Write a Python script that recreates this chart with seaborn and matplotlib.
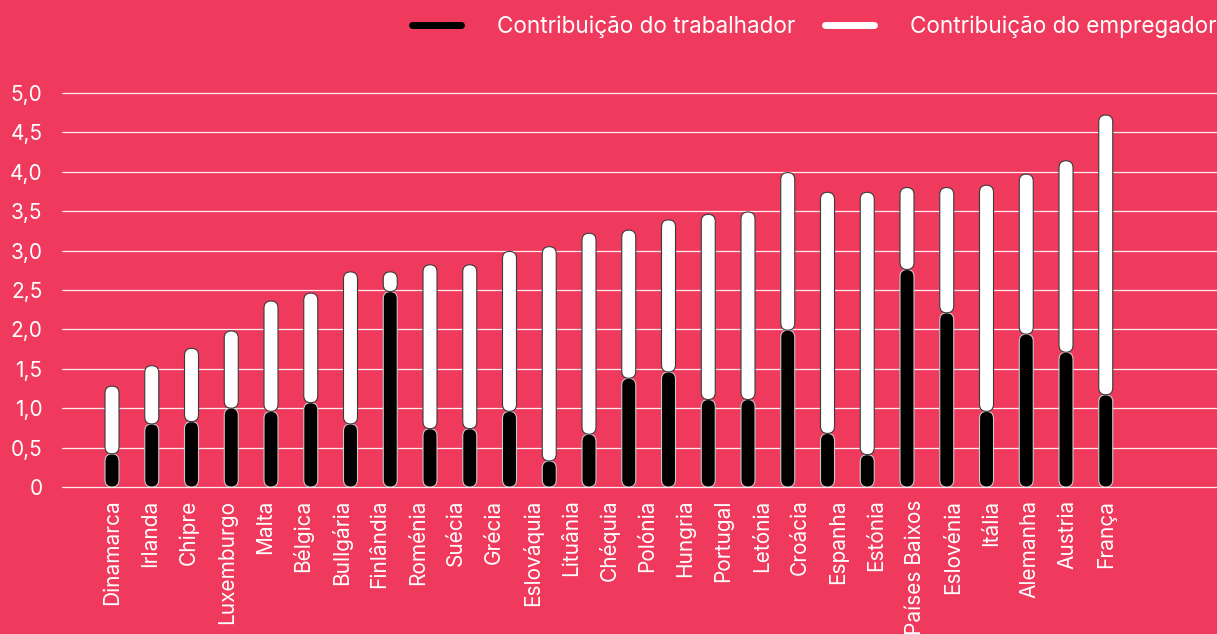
import matplotlib
matplotlib.use("Agg")
import matplotlib.pyplot as plt
import seaborn as sns
import numpy as np
from matplotlib.patches import FancyBboxPatch
from matplotlib.lines import Line2D

# labels along the x axis (27 labels, 26 bars in the source chart)
countries = ["Dinamarca", "Irlanda", "Chipre", "Luxemburgo", "Malta", "Bélgica",
             "Bullgária", "Finlândia", "Roménia", "Suécia", "Grécia", "Eslováquia",
             "Lituânia", "Chéquia", "Polónia", "Hungria", "Portugal", "Letónia",
             "Croácia", "Espanha", "Estónia", "Países Baixos", "Eslovénia", "Itália",
             "Alemanha", "Austria", "França"]

worker = [0.42, 0.80, 0.83, 1.00, 0.96, 1.07, 0.80, 2.48, 0.74, 0.74, 0.96, 0.33, 0.67,
          1.38, 1.46, 1.11, 1.11, 1.99, 0.68, 0.41, 2.76, 2.21, 0.96, 1.94, 1.71, 1.17]
employer = [0.86, 0.74, 0.93, 0.98, 1.40, 1.39, 1.93, 0.25, 2.08, 2.08, 2.03, 2.72, 2.55,
            1.88, 1.93, 2.35, 2.38, 2.00, 3.06, 3.33, 1.04, 1.59, 2.87, 2.03, 2.43, 3.55]

yticks = [0, 0.5, 1.0, 1.5, 2.0, 2.5, 3.0, 3.5, 4.0, 4.5, 5.0]
ytick_labels = ["0", "0,5", "1,0", "1,5", "2,0", "2,5", "3,0", "3,5", "4,0", "4,5", "5,0"]

bg = "#ef3a5d"

sns.set_style("white")
plt.rcParams['font.family'] = ['Inter', 'DejaVu Sans']

fig = plt.figure(figsize=(12.17, 6.34), dpi=100, facecolor=bg)
ax = fig.add_axes([62 / 1217, 147 / 634, 1155 / 1217, 395.6 / 634])
ax.set_facecolor(bg)

pos = list(range(len(worker)))
bar_w = 14 / 39.75
sns.barplot(x=pos, y=worker, color="black", width=bar_w, errorbar=None, ax=ax)
sns.barplot(x=pos, y=employer, color="white", width=bar_w, errorbar=None, ax=ax)

ax.set_xlim(-1.258, -1.258 + 1155 / 39.75)
ax.set_ylim(0, 5.02)

# work out y-per-x aspect in pixels so the bar ends come out round
fig.canvas.draw()
p0 = ax.transData.transform((0, 0))
p1 = ax.transData.transform((1, 1))
aspect = (p1[0] - p0[0]) / (p1[1] - p0[1])

patches = list(ax.patches)
n = len(worker)
for i, p in enumerate(patches):
    x, w, h = p.get_x(), p.get_width(), p.get_height()
    if i < n:
        y0, fc, ec = 0, "black", "#c8c8c8"
    else:
        y0, fc, ec = worker[i - n], "white", "#3a3a3a"
    p.remove()
    ax.add_patch(FancyBboxPatch((x, y0), w, h,
                                boxstyle=f"round,pad=0,rounding_size={w / 2}",
                                mutation_aspect=aspect, fc=fc, ec=ec, lw=0.8, zorder=3))

ax.set_yticks(yticks)
ax.set_yticklabels(ytick_labels)
ax.set_xticks(np.linspace(0, n - 1, len(countries)))
ax.set_xticklabels(countries, rotation=90)
ax.tick_params(axis="y", length=0, pad=14, labelsize=15, labelcolor="white")
ax.tick_params(axis="x", length=0, pad=9, labelsize=15, labelcolor="white")
ax.set_xlabel("")
ax.set_ylabel("")

ax.grid(axis="y", color="white", lw=0.9, alpha=0.9)
ax.grid(axis="x", visible=False)
ax.set_axisbelow(True)
for gl in ax.get_ygridlines():
    gl.set_clip_on(False)
sns.despine(ax=ax, left=True, bottom=True)

handles = [Line2D([], [], color="black", lw=5, solid_capstyle="round"),
           Line2D([], [], color="white", lw=5, solid_capstyle="round")]
fig.legend(handles, ["Contribuição do trabalhador", "Contribuição do empregador"],
           loc="center right", bbox_to_anchor=(1217 / 1217, 1 - 27 / 634), ncol=2,
           frameon=False, fontsize=16.2, labelcolor="white", handlelength=2.2,
           handletextpad=1.6, columnspacing=1.3, borderpad=0, borderaxespad=0)

fig.savefig("out.png", dpi=100, facecolor=bg)
